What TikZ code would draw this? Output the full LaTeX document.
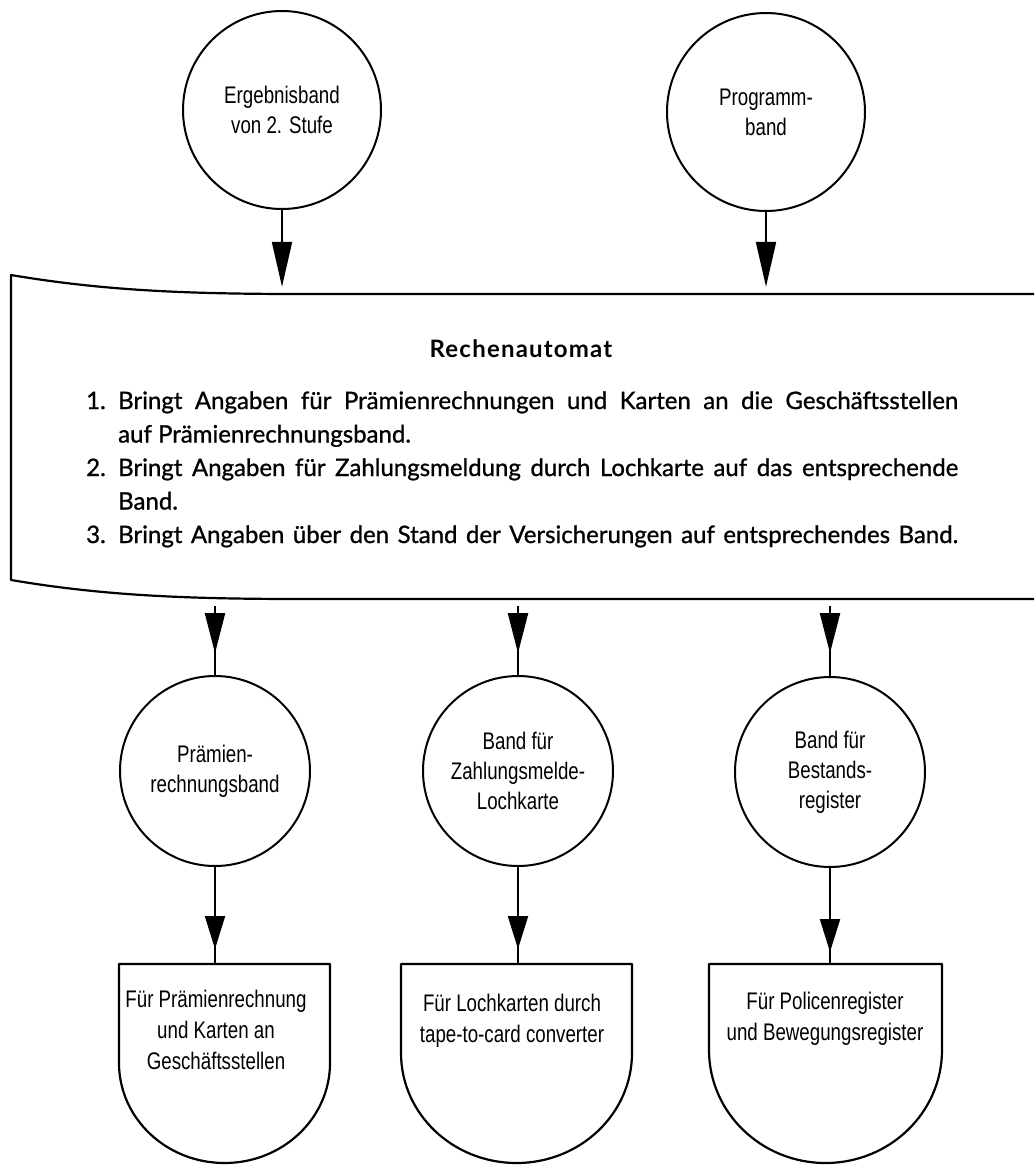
\documentclass[tikz,border=0pt]{standalone}
\usepackage{fontspec}
\setmainfont{Lato}
\newfontfamily\narrowfont[FakeStretch=0.78]{Liberation Sans}
\usetikzlibrary{arrows.meta,decorations.markings}

\begin{document}
\begin{tikzpicture}[x=1pt,y=-1pt,
  tape/.style={circle, draw, line width=2pt, inner sep=0pt, align=center,
    font=\narrowfont\fontsize{24}{30}\selectfont},
  bigtape/.style={tape, minimum size=198pt},
  smalltape/.style={tape, minimum size=190pt},
  outline/.style={line width=2.2pt, line join=round},
  outtext/.style={inner sep=0pt, align=center, anchor=north,
    font=\narrowfont\fontsize{24}{31}\selectfont},
  feed/.style={line width=2pt, -{Triangle[length=45pt,width=20pt]}, shorten >=7pt},
  midtip/.style 2 args={line width=2pt, postaction={decorate},
    decoration={markings, mark=at position #1 with
      {\arrow{Triangle[length=#2,width=20pt]}}}},
]
\useasboundingbox (0,0) rectangle (1034,1165);

% input tapes
\node[bigtape] (eb) at (282,110) {Ergebnisband\\von 2. Stufe};
\node[bigtape] (pb) at (766,112) {Programm-\\band};

% computer (process block, open to the right)
\node[inner sep=0pt, minimum width=1023pt, minimum height=305pt] (rechner) at (522.5,446.5) {};
\draw[outline] (1034,294) -- (300,294) .. controls (180,294) and (100,290) .. (11,275)
  -- (11,580) .. controls (100,595) and (180,599) .. (300,599) -- (1034,599);

\node[anchor=base, inner sep=0pt,
  font=\bfseries\fontsize{24}{24}\selectfont\addfontfeatures{LetterSpace=5}]
  (title) at (521,357) {Rechenautomat};

\node[anchor=base west, inner sep=0pt,
  font=\fontsize{24}{33.5}\selectfont\addfontfeatures{FakeBold=1}] (list) at (86,409)
{\parbox[t]{872pt}{%
\makebox[32pt][l]{1.}\makebox[840pt][s]{Bringt Angaben für Prämienrechnungen und Karten an die Geschäftsstellen}\par
\hspace*{32pt}auf Prämienrechnungsband.\par
\makebox[32pt][l]{2.}\makebox[840pt][s]{Bringt Angaben für Zahlungsmeldung durch Lochkarte auf das entsprechende}\par
\hspace*{32pt}Band.\par
\makebox[32pt][l]{3.}\makebox[840pt][s]{Bringt Angaben über den Stand der Versicherungen auf entsprechendes Band.}}};

% output tapes
\node[smalltape] (p1) at (215,771) {Prämien-\\rechnungsband};
\node[smalltape] (p2) at (518,771) {Band für\\Zahlungsmelde-\\Lochkarte};
\node[smalltape] (p3) at (830,772) {Band für\\Bestands-\\register};

% documents
\draw[outline] (119,964) -- (330,964) -- (330,1063)
  arc[start angle=0, end angle=-180, x radius=105.5pt, y radius=100pt] -- cycle;
\draw[outline] (401,964) -- (632,964) -- (632,1053)
  arc[start angle=0, end angle=-180, x radius=115.5pt, y radius=110pt] -- cycle;
\draw[outline] (709,964) -- (942,964) -- (942,1050)
  arc[start angle=0, end angle=-180, x radius=116.5pt, y radius=113pt] -- cycle;

\coordinate (d1) at (215,964);
\coordinate (d2) at (518,964);
\coordinate (d3) at (830,964);

\node[outtext] (t1) at (216,990) {Für Prämienrechnung\\und Karten an\\Geschäftsstellen};
\node[outtext] (t2) at (512,994) {Für Lochkarten durch\\tape-to-card converter};
\node[outtext] (t3) at (825,992) {Für Policenregister\\und Bewegungsregister};

% connectors
\draw[feed] (eb.south) -- (eb.south |- rechner.north);
\draw[feed] (pb.south) -- (pb.south |- rechner.north);

\draw[midtip={54pt}{40pt}, shorten <=7pt] (rechner.south -| p1.north) -- (p1.north);
\draw[midtip={54pt}{40pt}, shorten <=7pt] (rechner.south -| p2.north) -- (p2.north);
\draw[midtip={54pt}{40pt}, shorten <=7pt] (rechner.south -| p3.north) -- (p3.north);

\draw[midtip={82pt}{33pt}] (p1.south) -- (d1);
\draw[midtip={82pt}{33pt}] (p2.south) -- (d2);
\draw[midtip={84pt}{33pt}] (p3.south) -- (d3);
\end{tikzpicture}
\end{document}
